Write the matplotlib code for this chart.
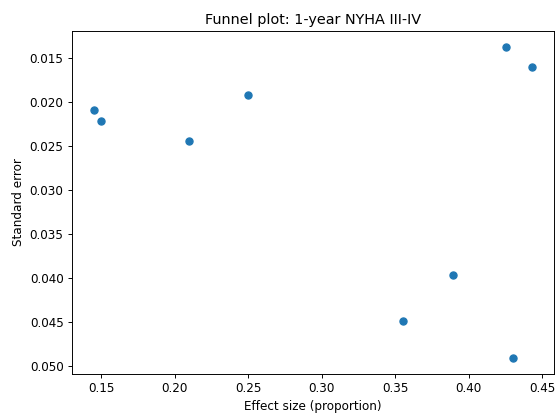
import matplotlib
matplotlib.use("Agg")
import matplotlib.pyplot as plt

# effect size (proportion) and standard error for each study
effect_size = [0.145, 0.150, 0.210, 0.250, 0.425, 0.443, 0.389, 0.355, 0.430]
std_error = [0.0209, 0.0221, 0.0244, 0.0192, 0.0137, 0.0160, 0.0396, 0.0449, 0.0491]

# lower dpi so fonts and markers come out a bit smaller, like the reference
dpi = 86
fig = plt.figure(figsize=(555 / dpi, 415 / dpi), dpi=dpi)
ax = fig.add_axes([0.1297, 0.0988, 0.8685, 0.8265])

ax.scatter(effect_size, std_error)
ax.invert_yaxis()

ax.set_title("Funnel plot: 1-year NYHA III-IV")
ax.set_xlabel("Effect size (proportion)")
ax.set_ylabel("Standard error")

fig.savefig("out.png", dpi=dpi)
